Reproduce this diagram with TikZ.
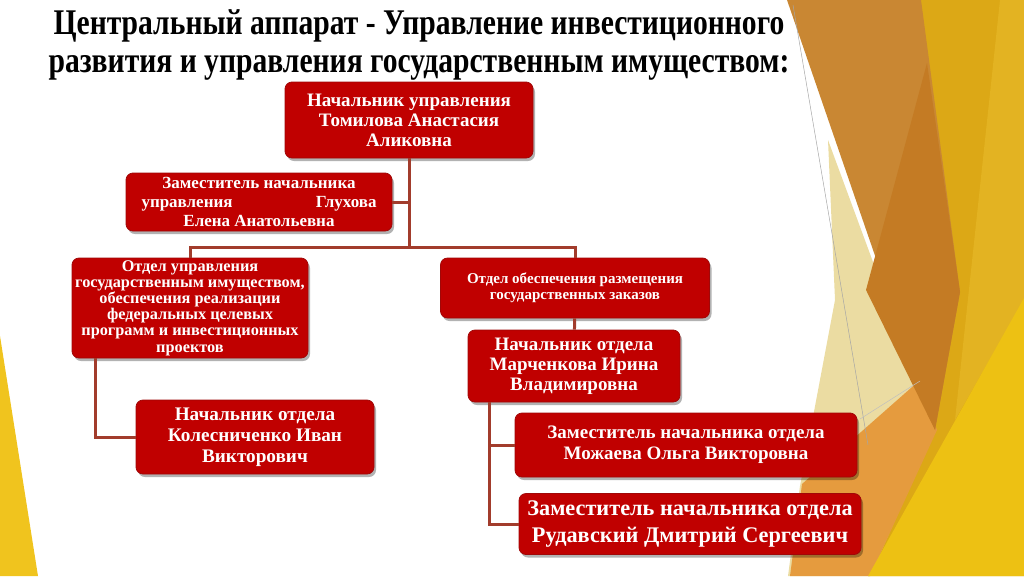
\documentclass[tikz,border=0pt]{standalone}
\usepackage{fontspec}
\setmainfont{Liberation Serif}
\usetikzlibrary{shadows}
\definecolor{boxred}{HTML}{C00000}
\definecolor{boxedge}{HTML}{A00808}
\definecolor{linkred}{HTML}{A23C2C}
\definecolor{orangetan}{HTML}{C98733}
\definecolor{orangedark}{HTML}{C47B24}
\definecolor{goldbg}{HTML}{DCA816}
\definecolor{goldlight}{HTML}{E3B322}
\definecolor{yellowbg}{HTML}{EDC113}
\definecolor{orangelight}{HTML}{E59B3E}
\definecolor{beigebg}{HTML}{EBDCA2}
\definecolor{yellowleft}{HTML}{F0C41E}
\newcommand\titlefont{\bfseries\fontsize{29.6}{38}\selectfont\lineskiplimit=-100pt\relax}
\tikzset{orgbox/.style={rectangle, rounded corners=7pt, fill=boxred, draw=boxedge,
    line width=0.8pt, text=white, align=center, inner sep=0pt,
    drop shadow={shadow xshift=2pt, shadow yshift=-3pt, opacity=0.3, fill=black}}}
\tikzset{link/.style={draw=linkred, line width=3pt}}
\tikzset{title/.style={align=center, font=\titlefont}}

\begin{document}
\begin{tikzpicture}[x=1pt,y=-1pt]
  \useasboundingbox (0,0) rectangle (1024,576);
  % background
  \fill[yellowleft] (0,336) -- (38,576) -- (0,576) -- cycle;
  \fill[goldbg] (918,0) -- (1024,0) -- (1024,576) -- (868,576) -- cycle;
  \fill[goldlight] (1000,0) -- (1024,0) -- (1024,300) -- (955,420) -- cycle;
  \fill[beigebg] (828,140) -- (935,430) -- (870,576) -- (788,576) -- (800,486)
    -- (835,300) -- cycle;
  \fill[orangelight] (920,380) -- (937,430) -- (870,576) -- (790,576)
    -- (802,484) -- cycle;
  \fill[orangetan] (787,0) -- (921,0) -- (960,292) -- (935,430) -- cycle;
  \fill[orangedark] (927,63) -- (960,292) -- (935,430) -- (866,290) -- cycle;
  \fill[yellowbg] (1024,298) -- (1024,576) -- (868,576) -- cycle;
  \draw[gray!70, line width=0.5pt] (793,5) -- (868,445);
  \draw[gray!50, line width=0.5pt] (860,419) -- (920,381);

  \node[title] (head) at (419,45)
    {\scalebox{1}[1.22]{Центральный аппарат - Управление инвестиционного}\\
     \scalebox{1}[1.22]{развития и управления государственным имуществом:}};

  \node[orgbox, minimum width=248pt, minimum height=76pt,
    font=\bfseries\fontsize{19}{20}\selectfont] (chief) at (409,120)
    {Начальник управления\\Томилова Анастасия\\Аликовна};
  \node[orgbox, minimum width=266pt, minimum height=58pt,
    font=\bfseries\fontsize{17}{19}\selectfont] (deputy) at (259,202)
    {Заместитель начальника\\\makebox[235pt]{управления\hfill Глухова}\\Елена Анатольевна};
  \node[orgbox, minimum width=236pt, minimum height=100pt,
    font=\bfseries\fontsize{16.3}{16.2}\selectfont] (propdept) at (190,308)
    {Отдел управления\\государственным имуществом,\\обеспечения реализации\\
     федеральных целевых\\программ и инвестиционных\\проектов};
  \node[orgbox, minimum width=269pt, minimum height=60pt,
    font=\bfseries\fontsize{15}{16}\selectfont] (orderdept) at (575,288)
    {Отдел обеспечения размещения\\государственных заказов};
  \node[orgbox, minimum width=212pt, minimum height=72pt,
    font=\bfseries\fontsize{19}{20}\selectfont] (orderhead) at (574,366)
    {Начальник отдела\\Марченкова Ирина\\Владимировна};
  \node[orgbox, minimum width=238pt, minimum height=74pt,
    font=\bfseries\fontsize{19.2}{21}\selectfont] (prophead) at (255,437)
    {Начальник отдела\\Колесниченко Иван\\Викторович};
  \node[orgbox, minimum width=342pt, minimum height=64pt,
    font=\bfseries\fontsize{19}{21}\selectfont] (orderdep1) at (686,445)
    {Заместитель начальника отдела\\Можаева Ольга Викторовна};
  \node[orgbox, minimum width=342pt, minimum height=61pt,
    font=\bfseries\fontsize{22.3}{27}\selectfont] (orderdep2) at (690,524)
    {Заместитель начальника отдела\\Рудавский Дмитрий Сергеевич};

  % connectors
  \coordinate (hub) at (409,247);
  \draw[link] (chief) -- (hub);
  \draw[link] (deputy.east) -- (deputy.east -| hub);
  \draw[link] (propdept.north) |- (hub) -| (orderdept.north);
  \draw[link] (orderdept) -- (orderhead);
  \draw[link] ([xshift=24pt]propdept.south west) |- (prophead.west);
  \draw[link] ([xshift=22pt]orderhead.south west) |- (orderdep1.west);
  \draw[link] ([xshift=22pt]orderhead.south west) |- (orderdep2.west);
\end{tikzpicture}
\end{document}
